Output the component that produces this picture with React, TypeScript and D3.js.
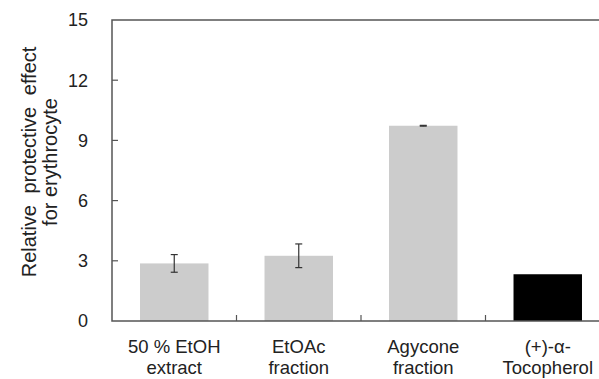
import React from 'react';
import * as d3 from 'd3';

const categories = ['50 % EtOH|extract', 'EtOAc|fraction', 'Agycone|fraction', '(+)-α-|Tocopherol'];
const values = [2.87, 3.25, 9.73, 2.33];
const errors = [0.44, 0.59, 0.02, 0];
const barColors = ['#cccccc', '#cccccc', '#cccccc', '#000000'];
const yTicks = [0, 3, 6, 9, 12, 15];

const W = 599;
const H = 379;
const margin = { top: 20, left: 112, right: -11, bottom: 58 };

export default function App() {
  const x = d3.scaleBand<string>()
    .domain(categories)
    .range([margin.left, W - margin.right])
    .paddingInner(0.45)
    .paddingOuter(0.225);

  const y = d3.scaleLinear()
    .domain([0, 15])
    .range([H - margin.bottom, margin.top]);

  const step = x.step();
  const plotLeft = margin.left;
  const plotRight = W - margin.right;
  const axisColor = '#555';
  const font = 'Liberation Sans, Arial, sans-serif';

  return (
    <svg width={W} height={H} style={{ position: 'absolute', left: 0, top: 0, background: '#fff' }}>
      {/* bars */}
      {categories.map((c, i) => (
        <rect key={c} x={x(c)} y={y(values[i])} width={x.bandwidth()}
          height={y(0) - y(values[i])} fill={barColors[i]} />
      ))}

      {/* error bars */}
      {categories.map((c, i) => {
        if (!errors[i]) return null;
        const cx = (x(c) ?? 0) + x.bandwidth() / 2;
        const y1 = y(values[i] + errors[i]);
        const y2 = y(values[i] - errors[i]);
        return (
          <g key={c} stroke="#333" strokeWidth={1.2}>
            <line x1={cx} x2={cx} y1={y1} y2={y2} />
            <line x1={cx - 3.5} x2={cx + 3.5} y1={y1} y2={y1} />
            <line x1={cx - 3.5} x2={cx + 3.5} y1={y2} y2={y2} />
          </g>
        );
      })}

      {/* frame */}
      <rect x={plotLeft} y={y(15)} width={plotRight - plotLeft} height={y(0) - y(15)}
        fill="none" stroke={axisColor} strokeWidth={1.5} />

      {/* y ticks */}
      {yTicks.map(t => (
        <g key={t}>
          {t > 0 && t < 15 && (
            <line x1={plotLeft} x2={plotLeft + 6} y1={y(t)} y2={y(t)} stroke={axisColor} strokeWidth={1.2} />
          )}
          <text x={88} y={y(t)} dy="0.36em" textAnchor="end" fontFamily={font}
            fontSize={18} fill="#222">{t}</text>
        </g>
      ))}

      {/* x ticks between categories */}
      {categories.slice(1).map(c => {
        const tx = (x(c) ?? 0) - step * 0.225;
        return <line key={c} x1={tx} x2={tx} y1={y(0)} y2={y(0) - 6} stroke={axisColor} strokeWidth={1.2} />;
      })}

      {/* x labels */}
      {categories.map(c => {
        const cx = (x(c) ?? 0) + x.bandwidth() / 2;
        return (
          <text key={c} x={cx} textAnchor="middle" fontFamily={font} fontSize={18.5} fill="#222">
            {c.split('|').map((l, j) => (
              <tspan key={j} x={cx} y={353 + j * 21}>{l}</tspan>
            ))}
          </text>
        );
      })}

      {/* y label */}
      <text transform="translate(0,162) rotate(-90)" textAnchor="middle" fontFamily={font}
        fontSize={20} fill="#222">
        <tspan x={0} y={36} wordSpacing={6}>Relative protective effect</tspan>
        <tspan x={0} y={57}>for erythrocyte</tspan>
      </text>
    </svg>
  );
}
